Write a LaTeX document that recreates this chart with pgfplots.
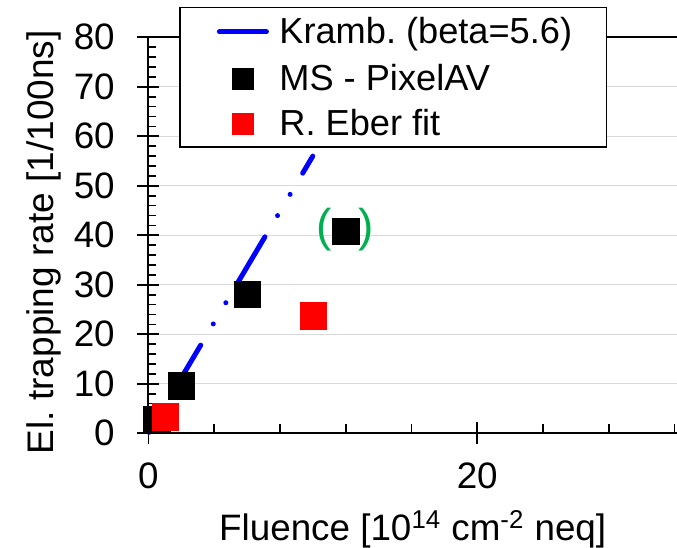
\documentclass[border=0pt]{standalone}
\usepackage{fontspec}
\setmainfont{Liberation Sans}
\usepackage{pgfplots}
\pgfplotsset{compat=1.18}
\definecolor{gridgray}{RGB}{217,217,217}
\definecolor{pargreen}{RGB}{0,176,80}
\frenchspacing
\begin{document}
\begin{tikzpicture}
\begin{axis}[
  at={(0pt,0pt)}, anchor=south west,
  scale only axis, width=264.3pt, height=198pt,
  xmin=0, xmax=32.15, ymin=0, ymax=80,
  clip=false,
  axis lines=left,
  axis line style={-, line width=1pt, black},
  xtick={0,20}, ytick={0,10,...,80},
  tick align=center, major tick length=11pt,
  tick style={black, line width=0.85pt},
  extra x ticks={4,8,...,32}, extra x tick labels={},
  extra x tick style={tick align=inside, major tick length=4.5pt, grid=none},
  extra y ticks={2,4,...,78}, extra y tick labels={},
  extra y tick style={tick align=inside, major tick length=4pt, grid=none},
  ymajorgrids, major grid style={gridgray, line width=0.65pt},
  /pgf/number format/assume math mode=true,
  tick label style={font=\fontsize{18.4}{22}\selectfont},
  xticklabel style={anchor=base, inner sep=0pt, yshift=-21.85pt},
  yticklabel style={anchor=east, inner sep=0pt, xshift=-11.15pt},
  xlabel={Fluence [10\textsuperscript{14} cm\textsuperscript{-2} neq]},
  xlabel style={at={(axis description cs:0.5,-0.2719)}, anchor=base, font=\fontsize{18.4}{22}\selectfont},
  ylabel={El. trapping rate [1/100ns]},
  ylabel style={at={(axis description cs:-0.1799,0.4826)}, anchor=base, font=\fontsize{18.5}{22}\selectfont},
  legend style={at={(0.0598,1.0758)}, anchor=north west, draw=black, line width=0.65pt, fill=white,
    inner xsep=17.2pt, inner ysep=0pt, outer sep=0pt, row sep=0pt, column sep=4pt,
    font=\fontsize{18.1}{22}\selectfont,
    nodes={inner sep=0pt}},
  legend cell align=left,
]
\addplot[blue, line width=2.5pt, line cap=round,
  dash pattern=on 26pt off 12.33pt on 0pt off 12.33pt on 0pt off 12.33pt, dash phase=37.75pt,
  legend image code/.code={\path (0pt,-11pt) (26pt,11pt); \draw[solid, blue, line width=2.5pt, line cap=round] (1.25pt,0pt) -- (24.75pt,0pt);}]
  coordinates {(0,0) (10,56)};
\addlegendentry{Kramb. (beta=5.6)}
\addplot[only marks, mark=square*, mark size=6.6pt, mark options={solid, fill=black, draw=black, line width=0.1pt},
  legend image code/.code={\path (0pt,-11pt) (26pt,11pt); \fill[black] (7.75pt,-5.25pt) rectangle (18.25pt,5.25pt);}]
  coordinates {(0.5,2.8) (2,9.6) (6,28.1) (12,40.9)};
\addlegendentry{MS - PixelAV}
\addplot[only marks, mark=square*, mark size=6.6pt, mark options={solid, fill=red, draw=red, line width=0.1pt},
  legend image code/.code={\path (0pt,-11pt) (26pt,11pt); \fill[red] (7.75pt,-5.25pt) rectangle (18.25pt,5.25pt);}]
  coordinates {(1,3.4) (10,23.8)};
\addlegendentry{R. Eber fit}
\draw[black, line width=1pt] (rel axis cs:0,1) -- (rel axis cs:1,1);
\node[text=pargreen, font=\fontsize{23}{27}\selectfont, inner sep=0pt, anchor=center] at ([xshift=-10.85pt, yshift=0.6pt]axis cs:12,40.9) {(};
\node[text=pargreen, font=\fontsize{23}{27}\selectfont, inner sep=0pt, anchor=center] at ([xshift=10.35pt, yshift=0.6pt]axis cs:12,40.9) {)};
\end{axis}
\pgfresetboundingbox
\path[use as bounding box] (-74.2pt,-57.35pt) rectangle (264.3pt,216.65pt);
\end{tikzpicture}
\end{document}
